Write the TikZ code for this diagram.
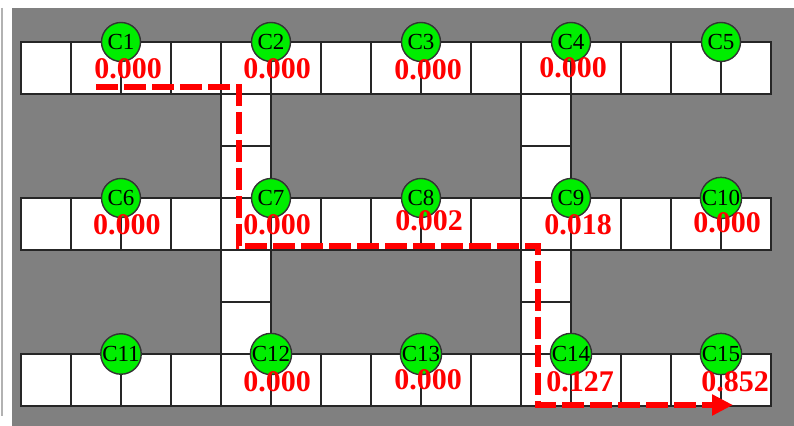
\documentclass[tikz,border=0pt]{standalone}
\usepackage{fontspec}
\setmainfont{Liberation Serif}
\usetikzlibrary{arrows.meta}
\definecolor{floorgray}{RGB}{128,128,128}
\definecolor{camgreen}{RGB}{0,238,0}
\definecolor{probred}{RGB}{255,0,0}

\begin{document}
\begin{tikzpicture}[x=0.5pt,y=-0.5pt,>={Triangle[length=10.5pt,width=10pt]}]
    \tikzstyle{cell}=[draw=black!85,fill=white,line width=0.75pt]
    \tikzstyle{cam}=[circle,draw=black!80,fill=camgreen,line width=0.7pt,minimum size=19.5pt,inner sep=0pt,font=\fontsize{11.5}{11.5}\selectfont]
    \tikzstyle{prob}=[anchor=base,text=probred,inner sep=0pt,font=\fontsize{15}{15}\selectfont\bfseries]
    \tikzstyle{route}=[draw=probred,line width=3pt,dash pattern=on 11pt off 3pt]

    \useasboundingbox (0,0) rectangle (794,426);
    \fill[white] (0,0) rectangle (794,426);
    \fill[floorgray] (12,8) rectangle (794,426);
    \draw[black!30,line width=1pt] (2,8) -- (2,416);

    % corridors
    \foreach \yt in {42,198,354}
      \foreach \k in {0,...,14}
        \draw[cell] (21+50*\k,\yt) rectangle ++(50,52);
    \foreach \xc in {221,521}
      \foreach \yt in {94,146,250,302}
        \draw[cell] (\xc,\yt) rectangle ++(50,52);

    % cameras
    \node[cam] (c1) at (121,42) {C1};
    \node[cam] (c2) at (271,42) {C2};
    \node[cam] (c3) at (421,42) {C3};
    \node[cam] (c4) at (571,42) {C4};
    \node[cam] (c5) at (721,42) {C5};
    \node[cam] (c6) at (121,198) {C6};
    \node[cam] (c7) at (271,198) {C7};
    \node[cam] (c8) at (421,198) {C8};
    \node[cam] (c9) at (571,198) {C9};
    \node[cam] (c10) at (721,198) {C10};
    \node[cam] (c11) at (121,354) {C11};
    \node[cam] (c12) at (271,354) {C12};
    \node[cam] (c13) at (421,354) {C13};
    \node[cam] (c14) at (571,354) {C14};
    \node[cam] (c15) at (721,354) {C15};

    % probabilities
    \node[prob] (p1) at (128,79) {0.000};
    \node[prob] (p2) at (277,79) {0.000};
    \node[prob] (p3) at (428,80) {0.000};
    \node[prob] (p4) at (573,78) {0.000};
    \node[prob] (p6) at (127,235) {0.000};
    \node[prob] (p7) at (277,235) {0.000};
    \node[prob] (p8) at (429,231) {0.002};
    \node[prob] (p9) at (578,235) {0.018};
    \node[prob] (p10) at (727,233) {0.000};
    \node[prob] (p12) at (277,392) {0.000};
    \node[prob] (p13) at (428,390) {0.000};
    \node[prob] (p14) at (580,392) {0.127};
    \node[prob] (p15) at (735,392) {0.852};

    % most likely route
    \coordinate (r0) at (96,87);
    \coordinate (r1) at (239,87);
    \coordinate (r2) at (239,246);
    \coordinate (r3) at (538,246);
    \coordinate (r4) at (538,405);
    \coordinate (r5) at (733,405);
    \draw[route,->] (r0) -- (r1) -- (r2) -- (r3) -- (r4) -- (r5);
\end{tikzpicture}
\end{document}
